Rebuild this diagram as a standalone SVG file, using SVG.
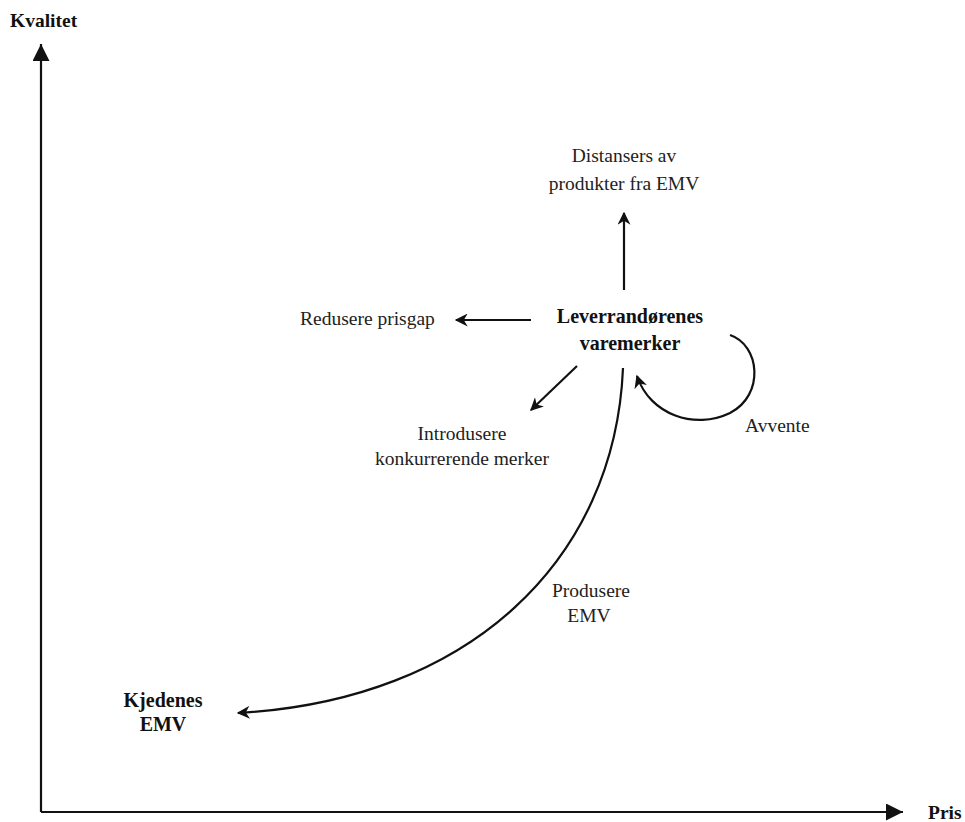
<svg xmlns="http://www.w3.org/2000/svg" width="965" height="822" viewBox="0 0 965 822">
<style>
text{font-family:"Liberation Serif","Times New Roman",serif;fill:#222}
.n{font-size:19.5px}
.b{font-size:20px;font-weight:bold;fill:#111}
.ax{font-size:19.5px;font-weight:bold;fill:#111}
.l{fill:none;stroke:#111;stroke-width:2.2}
</style>
<defs>
<marker id="ah" viewBox="0 0 10 10" refX="9" refY="5" markerWidth="15" markerHeight="13" orient="auto" markerUnits="userSpaceOnUse">
<path d="M0,0 L10,5 L0,10 L3,5 Z" fill="#111"/>
</marker>
<marker id="big" viewBox="0 0 10 10" refX="10" refY="5" markerWidth="19" markerHeight="17" orient="auto" markerUnits="userSpaceOnUse">
<path d="M0,0 L10,5 L0,10 Z" fill="#111"/>
</marker>
</defs>
<rect width="965" height="822" fill="#fff"/>
<g id="axes">
<path class="l" d="M41,812 L41,44" marker-end="url(#big)" stroke-width="2.5"/>
<path class="l" d="M41,812 L903,812" marker-end="url(#big)" stroke-width="2.5"/>
<text class="ax" x="10" y="27">Kvalitet</text>
<text class="ax" x="928" y="819">Pris</text>
</g>
<g id="connectors">
<path class="l" d="M624,290 L624,213" marker-end="url(#ah)"/>
<path class="l" d="M531,320 L456,320" marker-end="url(#ah)"/>
<path class="l" d="M577,366 L531,410" marker-end="url(#ah)"/>
<path class="l" d="M730,335 C760,345 765,395 730,413 C695,430 650,415 637,376" marker-end="url(#ah)"/>
<path class="l" d="M623,368 C615,560 470,700 238,713" marker-end="url(#ah)"/>
</g>
<g id="leverandor">
<text class="b" x="630" y="323" text-anchor="middle">Leverrandørenes</text>
<text class="b" x="630" y="350" text-anchor="middle">varemerker</text>
</g>
<g id="distansere">
<text class="n" x="624" y="162" text-anchor="middle">Distansers av</text>
<text class="n" x="624" y="190" text-anchor="middle">produkter fra EMV</text>
</g>
<g id="redusere">
<text class="n" x="300" y="325">Redusere prisgap</text>
</g>
<g id="introdusere">
<text class="n" x="462" y="440" text-anchor="middle">Introdusere</text>
<text class="n" x="462" y="465" text-anchor="middle">konkurrerende merker</text>
</g>
<g id="avvente">
<text class="n" x="745" y="432">Avvente</text>
</g>
<g id="produsere">
<text class="n" x="591" y="597" text-anchor="middle">Produsere</text>
<text class="n" x="589" y="622" text-anchor="middle">EMV</text>
</g>
<g id="kjedenes">
<text class="b" x="163" y="707" text-anchor="middle">Kjedenes</text>
<text class="b" x="163" y="731" text-anchor="middle">EMV</text>
</g>
</svg>
